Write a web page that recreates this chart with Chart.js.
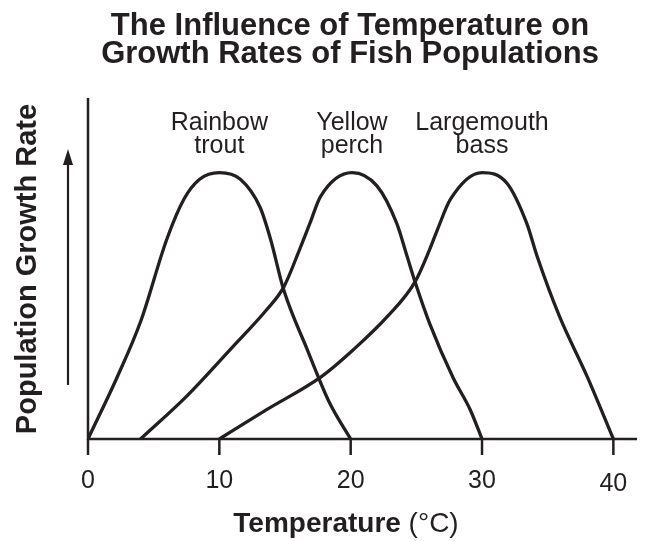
<!DOCTYPE html>
<html>
<head>
<meta charset="utf-8">
<script src="https://cdn.jsdelivr.net/npm/chart.js@4.4.1/dist/chart.umd.min.js"></script>
<style>
  html, body { margin: 0; padding: 0; background: #fff; }
  #wrap { width: 647px; height: 541px; position: relative; }
</style>
</head>
<body>
<div id="wrap"><canvas id="chart" width="647" height="541"></canvas></div>
<script>
// 曲線データ（温度 °C, 相対成長率）
const troutTemp = [0, 2.2, 4, 6, 7.3, 8.5, 10, 11.6, 13.1, 13.9, 14.9, 16.7, 18.4, 20];
const troutRate = [0, 2.3, 4.4, 7.5, 9.0, 9.75, 10, 9.75, 8.7, 7.5, 5.6, 3.35, 1.35, 0];
const perchTemp = [4, 7.5, 11, 13.6, 14.9, 16.1, 16.9, 17.7, 20.1, 22, 23.5, 24.3, 24.9, 26, 27.8, 29.1, 30];
const perchRate = [0, 1.6, 3.45, 4.85, 5.7, 7.1, 8.1, 9.1, 10, 9.5, 8.1, 6.85, 5.9, 4.35, 2.3, 1.1, 0];
const bassTemp = [10, 13.6, 17.8, 20.2, 22.8, 24.9, 26, 26.6, 27.6, 30, 31.9, 33.4, 34.2, 35.9, 38, 40];
const bassRate = [0, 1.1, 2.35, 3.35, 4.6, 5.9, 7.1, 7.85, 9.0, 10, 9.6, 8.1, 6.85, 4.6, 2.35, 0];

const speciesNames = [['Rainbow', 'trout'], ['Yellow', 'perch'], ['Largemouth', 'bass']];
const xTicks = [0, 10, 20, 30, 40];

const INK = '#231f20';
const FONT = '"Liberation Sans", Arial, Helvetica, sans-serif';

function toPoints(xs, ys) {
    return xs.map((x, i) => ({ x: x, y: ys[i] }));
}

function curve(xs, ys) {
    return {
        data: toPoints(xs, ys),
        borderColor: INK,
        borderWidth: 3.3,
        pointRadius: 0,
        fill: false,
        cubicInterpolationMode: 'monotone'
    };
}

/* ---------- 軸・ラベル・タイトルを描くプラグイン ---------- */
const decorations = {
    id: 'decorations',
    afterDatasetsDraw(chart) {
        const ctx = chart.ctx;
        const xs = chart.scales.x;
        const area = chart.chartArea;
        ctx.save();
        ctx.strokeStyle = INK;
        ctx.fillStyle = INK;
        ctx.lineWidth = 2.5;
        ctx.lineCap = 'butt';

        // 軸
        ctx.beginPath();
        ctx.moveTo(area.left, area.top);
        ctx.lineTo(area.left, area.bottom);
        ctx.lineTo(area.right, area.bottom);
        ctx.stroke();

        // 目盛りとラベル
        ctx.font = '25px ' + FONT;
        ctx.textAlign = 'center';
        ctx.textBaseline = 'alphabetic';
        xTicks.forEach(function (t) {
            const px = xs.getPixelForValue(t);
            ctx.beginPath();
            ctx.moveTo(px, area.bottom);
            ctx.lineTo(px, area.bottom + 16);
            ctx.stroke();
            ctx.fillText(String(t), px, t === 40 ? 491 : 488);
        });

        // 種名ラベル（ピーク温度の真上）
        ctx.font = '25px ' + FONT;
        const peaks = [troutTemp[troutRate.indexOf(10)], perchTemp[perchRate.indexOf(10)], bassTemp[bassRate.indexOf(10)]];
        speciesNames.forEach(function (lines, i) {
            const px = xs.getPixelForValue(peaks[i]);
            ctx.fillText(lines[0], px, 130);
            ctx.fillText(lines[1], px, 153);
        });

        // 矢印
        ctx.lineWidth = 2.2;
        ctx.beginPath();
        ctx.moveTo(68, 385);
        ctx.lineTo(68, 160);
        ctx.stroke();
        ctx.beginPath();
        ctx.moveTo(68, 149);
        ctx.lineTo(63, 165);
        ctx.lineTo(73, 165);
        ctx.closePath();
        ctx.fill();

        // 縦軸タイトル
        ctx.save();
        ctx.translate(36, 269);
        ctx.rotate(-Math.PI / 2);
        ctx.textAlign = 'center';
        ctx.font = 'bold 29px ' + FONT;
        ctx.fillText('Population Growth Rate', 0, 0);
        ctx.restore();

        // 横軸タイトル（太字 + 通常）
        const boldPart = 'Temperature';
        const normPart = ' (°C)';
        ctx.font = 'bold 28px ' + FONT;
        const w1 = ctx.measureText(boldPart).width;
        ctx.font = '28px ' + FONT;
        const w2 = ctx.measureText(normPart).width;
        const startX = 346 - (w1 + w2) / 2;
        ctx.textAlign = 'left';
        ctx.font = 'bold 28px ' + FONT;
        ctx.fillText(boldPart, startX, 532);
        ctx.font = '28px ' + FONT;
        ctx.fillText(normPart, startX + w1, 532);

        // タイトル
        ctx.textAlign = 'center';
        ctx.font = 'bold 31px ' + FONT;
        ctx.fillText('The Influence of Temperature on', 350, 35);
        ctx.fillText('Growth Rates of Fish Populations', 350, 63);
        ctx.restore();
    }
};

new Chart(document.getElementById('chart'), {
    type: 'line',
    data: {
        datasets: [curve(troutTemp, troutRate), curve(perchTemp, perchRate), curve(bassTemp, bassRate)]
    },
    options: {
        responsive: false,
        animation: false,
        layout: { padding: { left: 88, right: 10, top: 98, bottom: 102 } },
        plugins: { legend: { display: false }, tooltip: { enabled: false }, title: { display: false } },
        scales: {
            x: { type: 'linear', min: 0, max: 41.8, display: false },
            y: { min: 0, max: 12.8, display: false }
        }
    },
    plugins: [decorations]
});
</script>
</body>
</html>
